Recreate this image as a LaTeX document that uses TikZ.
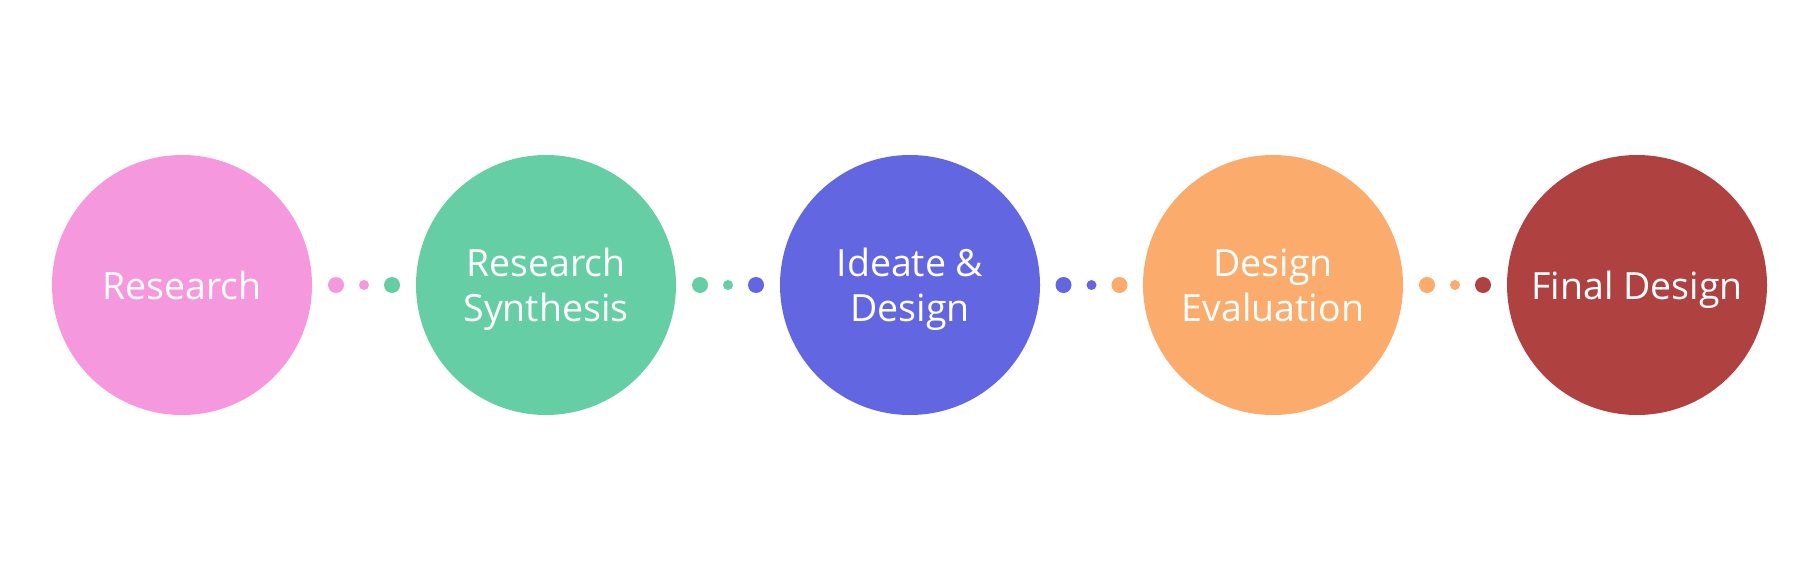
\documentclass[tikz,border=0pt]{standalone}
\usepackage{fontspec}
\setmainfont{Open Sans}
\usetikzlibrary{calc}
\definecolor{cpink}{HTML}{F598DE}
\definecolor{cgreen}{HTML}{66CEA5}
\definecolor{cblue}{HTML}{6366E1}
\definecolor{corange}{HTML}{FBAB6B}
\definecolor{cred}{HTML}{B04141}
\begin{document}
\begin{tikzpicture}[x=1pt,y=-1pt,
  stage/.style={circle,fill=#1,minimum size=260pt,inner sep=0pt,text=white,
    font=\fontsize{37.5}{45}\selectfont,align=center,text depth=0pt},
  bigdot/.style={circle,fill=#1,minimum size=16pt,inner sep=0pt},
  smalldot/.style={circle,fill=#1,minimum size=10pt,inner sep=0pt}]
\useasboundingbox (0,0) rectangle (1818,570);
\node[stage=cpink]   (s1) at (182,285)  {Research};
\node[stage=cgreen]  (s2) at (546,285)  {Research\\Synthesis};
\node[stage=cblue]   (s3) at (910,285)  {Ideate \&\\Design};
\node[stage=corange] (s4) at (1273,285) {Design\\Evaluation};
\node[stage=cred]    (s5) at (1637,285) {Final Design};
\foreach \a/\b/\ca/\cb [count=\i] in {s1/s2/cpink/cgreen, s2/s3/cgreen/cblue, s3/s4/cblue/corange, s4/s5/corange/cred}{
  \coordinate (m\i) at ($(\a)!0.5!(\b)$);
  \node[bigdot=\ca]   (d\i a) at ([xshift=-28pt]m\i) {};
  \node[smalldot=\ca] (d\i b) at (m\i) {};
  \node[bigdot=\cb]   (d\i c) at ([xshift=28pt]m\i) {};
}
\end{tikzpicture}
\end{document}
